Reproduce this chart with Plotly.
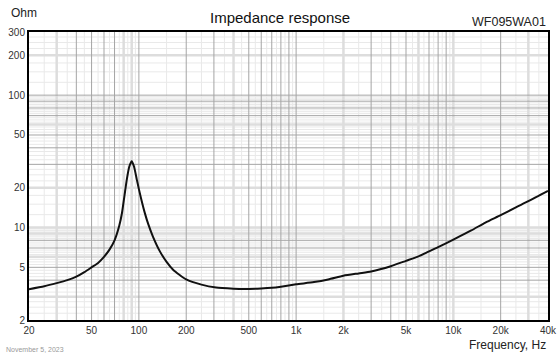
import plotly.graph_objects as go

# ---- data ----
freq_hz = [20, 25, 30, 35, 40, 45, 50, 55, 60, 65, 70, 75, 78, 81, 84, 87, 90,
           93, 97, 100, 104, 109, 115, 123, 136, 150, 165, 200, 250, 310, 400,
           460, 600, 700, 800, 1000, 1300, 1600, 2000, 2500, 3000, 4000, 5000,
           6000, 7000, 8000, 10000, 13000, 16000, 20000, 25000, 30000, 40000]
impedance_ohm = [3.42, 3.6, 3.8, 4.0, 4.25, 4.6, 5.0, 5.4, 6.0, 6.8, 8.0, 10.3,
                 12.8, 17.5, 23.5, 29.0, 31.6, 29.0, 23.0, 19.5, 16.0, 12.9, 10.5,
                 8.5, 6.6, 5.5, 4.8, 4.05, 3.7, 3.52, 3.45, 3.43, 3.46, 3.5, 3.57,
                 3.72, 3.87, 4.05, 4.32, 4.5, 4.65, 5.1, 5.6, 6.05, 6.6, 7.1, 8.1,
                 9.5, 10.9, 12.4, 14.2, 15.8, 18.9]

x_tick_vals = [20, 50, 100, 200, 500, 1000, 2000, 5000, 10000, 20000, 40000]
x_tick_text = ["20", "50", "100", "200", "500", "1k", "2k", "5k", "10k", "20k", "40k"]
y_tick_vals = [2, 5, 10, 20, 50, 100, 200, 300]
y_tick_text = ["2", "5", "10", "20", "50", "100", "200", "300"]

X_MIN, X_MAX = 20, 40000
Y_MIN, Y_MAX = 2, 300

# ---- grid line positions (styling) ----
x_light_thick = [30, 80, 90, 400, 2000, 6000, 10000, 30000]
x_dark, x_thin = [], []
for dec in [10, 100, 1000, 10000]:
    for m in range(1, 10):
        v = m * dec
        if X_MIN < v < X_MAX and v not in x_light_thick:
            x_dark.append(v)
        h = (m + 0.5) * dec
        if X_MIN < h < X_MAX:
            x_thin.append(h)

y_light_thick = [3, 6, 9, 10, 20, 60, 200]
y_dark, y_thin = [], []
for dec in [1, 10, 100]:
    for m in range(1, 10):
        v = m * dec
        if Y_MIN < v < Y_MAX and v not in y_light_thick:
            y_dark.append(v)
        for q in (0.25, 0.5, 0.75):
            h = (m + q) * dec
            if Y_MIN < h < Y_MAX:
                y_thin.append(h)


def vlines(vals):
    xs, ys = [], []
    for v in vals:
        xs += [v, v, None]
        ys += [Y_MIN, Y_MAX, None]
    return xs, ys


def hlines(vals):
    xs, ys = [], []
    for v in vals:
        xs += [X_MIN, X_MAX, None]
        ys += [v, v, None]
    return xs, ys


fig = go.Figure()

grid_styles = [
    (x_thin, y_thin, "#e9e9e9", 1),
    (x_light_thick, y_light_thick, "#dddddd", 2.5),
    (x_dark, y_dark, "#a5a5a5", 1),
]
for xv, yv, col, w in grid_styles:
    vx, vy = vlines(xv)
    hx, hy = hlines(yv)
    fig.add_trace(go.Scatter(x=vx + hx, y=vy + hy, mode="lines",
                             line=dict(color=col, width=w),
                             hoverinfo="skip", showlegend=False))

fig.add_trace(go.Scatter(x=freq_hz, y=impedance_ohm, mode="lines",
                         line=dict(color="#111111", width=2, shape="spline",
                                   smoothing=0.6),
                         showlegend=False, name="Impedance"))

FONT = "Liberation Sans, Arial, sans-serif"

fig.update_layout(
    width=560, height=356,
    margin=dict(l=29, r=12, t=32, b=36),
    paper_bgcolor="white", plot_bgcolor="white",
    font=dict(family=FONT, size=10, color="#333333"),
    xaxis=dict(type="log", range=[1.30103, 4.60206], tickvals=x_tick_vals,
               ticktext=x_tick_text, showgrid=False, zeroline=False,
               automargin=False,
               showline=True, linecolor="black", linewidth=2, mirror=True,
               ticks="", ticklen=0, tickfont=dict(size=10, color="#333333")),
    yaxis=dict(type="log", range=[0.30103, 2.4771213], tickvals=y_tick_vals,
               ticktext=y_tick_text, showgrid=False, zeroline=False,
               automargin=False,
               showline=True, linecolor="black", linewidth=2, mirror=True,
               ticks="", ticklen=0, tickfont=dict(size=10, color="#333333")),
    annotations=[
        dict(text="Impedance response", xref="paper", yref="paper", x=0.5,
             xshift=-9, y=1.0, yshift=4, xanchor="center", yanchor="bottom",
             showarrow=False, font=dict(size=15, color="#111111")),
        dict(text="Ohm", xref="paper", yref="paper", x=0, xshift=-20,
             y=1.0, yshift=10, xanchor="left", yanchor="bottom",
             showarrow=False, font=dict(size=12, color="#222222")),
        dict(text="WF095WA01", xref="paper", yref="paper", x=1.0,
             y=1.0, yshift=1, xanchor="right", yanchor="bottom",
             showarrow=False, font=dict(size=12.5, color="#222222")),
        dict(text="Frequency, Hz", xref="paper", yref="paper", x=1.0,
             y=0, yshift=-34, xanchor="right", yanchor="bottom",
             showarrow=False, font=dict(size=12, color="#222222")),
        dict(text="November 5, 2023", xref="paper", yref="paper", x=0,
             xshift=-25, y=0, yshift=-35, xanchor="left", yanchor="bottom",
             showarrow=False, font=dict(size=7, color="#999999")),
    ],
)

fig.write_html("out.html", config={"displayModeBar": False},
               post_script="document.body.style.margin='0px';"
                           "document.body.style.overflow='hidden';")
